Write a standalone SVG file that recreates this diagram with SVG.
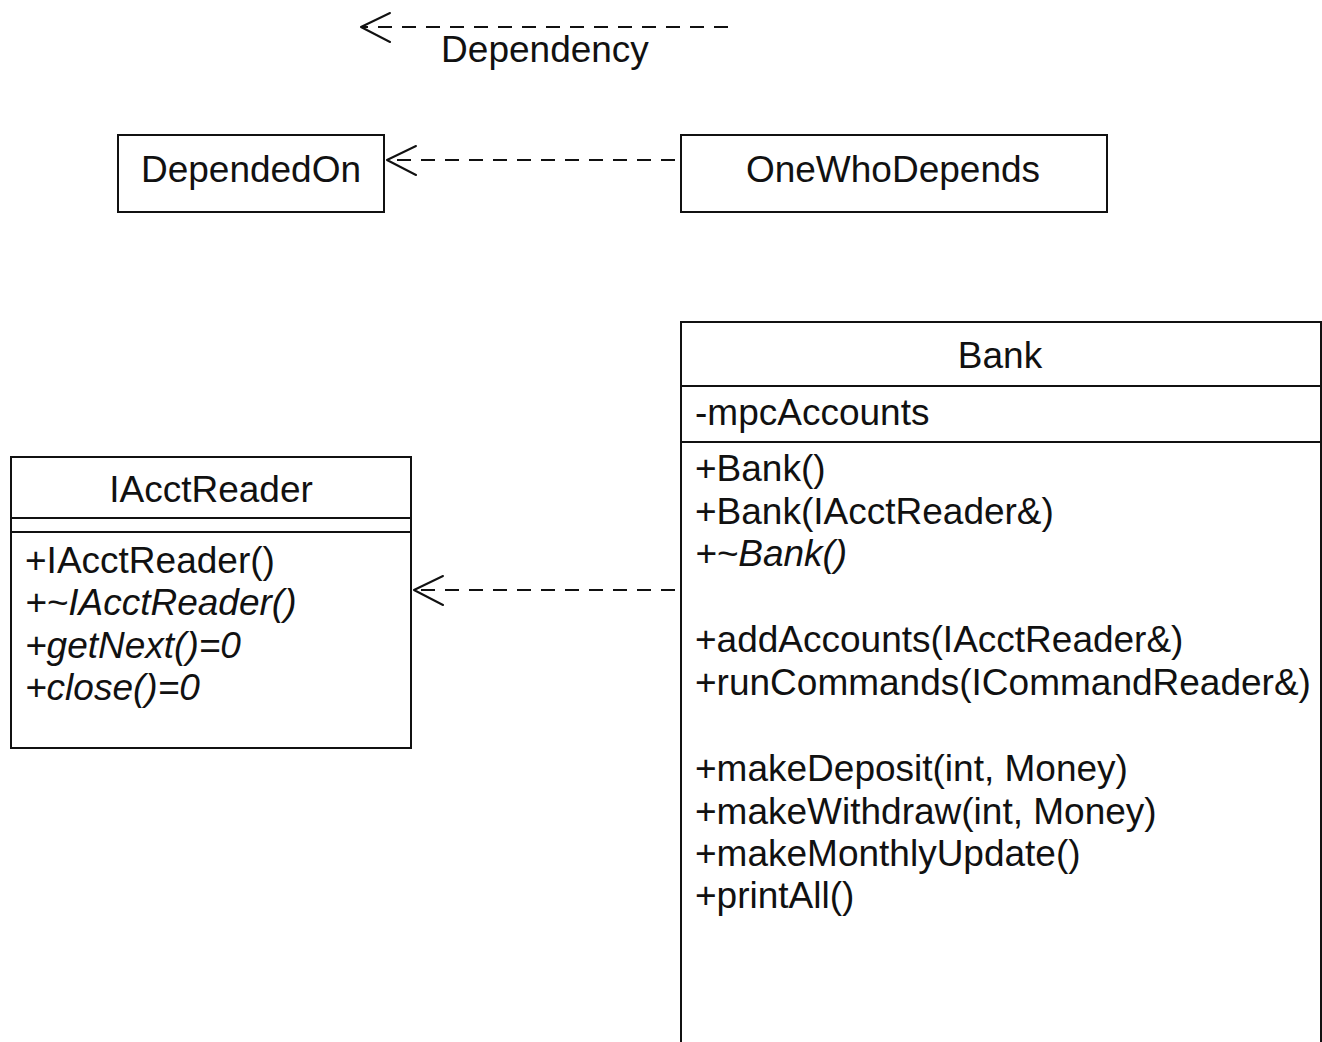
<svg xmlns="http://www.w3.org/2000/svg" width="1322" height="1042" viewBox="0 0 1322 1042">
  <style>
    .box { fill: #ffffff; stroke: #111111; stroke-width: 2; }
    .sep { stroke: #111111; stroke-width: 2; fill: none; }
    .dep { stroke: #111111; stroke-width: 2; fill: none; stroke-dasharray: 14 10; }
    .head { stroke: #111111; stroke-width: 2; fill: none; stroke-linecap: round; stroke-linejoin: round; }
    text { font-family: "Liberation Sans", Arial, sans-serif; font-size: 37px; fill: #111111; }
    .c { text-anchor: middle; }
    .i { font-style: italic; }
  </style>

  <rect width="1322" height="1042" fill="#ffffff"/>

  <!-- legend: dependency arrow -->
  <g id="legend">
    <line class="dep" x1="728" y1="27" x2="362" y2="27"/>
    <polyline class="head" points="390,13 361,27 390,42"/>
    <text x="545" y="62" class="c">Dependency</text>
  </g>

  <!-- nodes -->
  <g id="DependedOn">
    <rect class="box" x="118" y="135" width="266" height="77"/>
    <text x="251" y="182" class="c">DependedOn</text>
  </g>

  <g id="OneWhoDepends">
    <rect class="box" x="681" y="135" width="426" height="77"/>
    <text x="893" y="182" class="c">OneWhoDepends</text>
  </g>

  <g id="IAcctReader">
    <rect class="box" x="11" y="457" width="400" height="291"/>
    <line class="sep" x1="11" y1="518" x2="411" y2="518"/>
    <line class="sep" x1="11" y1="532" x2="411" y2="532"/>
    <text x="211" y="502" class="c">IAcctReader</text>
    <text x="25" y="573">+IAcctReader()</text>
    <text x="25" y="615" class="i">+~IAcctReader()</text>
    <text x="25" y="658" class="i">+getNext()=0</text>
    <text x="25" y="700" class="i">+close()=0</text>
  </g>

  <g id="Bank">
    <rect class="box" x="681" y="322" width="640" height="740"/>
    <line class="sep" x1="681" y1="386" x2="1321" y2="386"/>
    <line class="sep" x1="681" y1="442" x2="1321" y2="442"/>
    <text x="1000" y="368" class="c">Bank</text>
    <text x="695" y="425">-mpcAccounts</text>
    <text x="695" y="481">+Bank()</text>
    <text x="695" y="524">+Bank(IAcctReader&amp;)</text>
    <text x="695" y="566" class="i">+~Bank()</text>
    <text x="695" y="652">+addAccounts(IAcctReader&amp;)</text>
    <text x="695" y="695">+runCommands(ICommandReader&amp;)</text>
    <text x="695" y="781">+makeDeposit(int, Money)</text>
    <text x="695" y="824">+makeWithdraw(int, Money)</text>
    <text x="695" y="866">+makeMonthlyUpdate()</text>
    <text x="695" y="908">+printAll()</text>
  </g>

  <!-- connectors -->
  <g id="connectors">
    <line class="dep" x1="675" y1="160" x2="388" y2="160"/>
    <polyline class="head" points="416,146 387,160 416,175"/>
    <line class="dep" x1="675" y1="590" x2="415" y2="590"/>
    <polyline class="head" points="443,576 414,590 443,605"/>
  </g>
</svg>
